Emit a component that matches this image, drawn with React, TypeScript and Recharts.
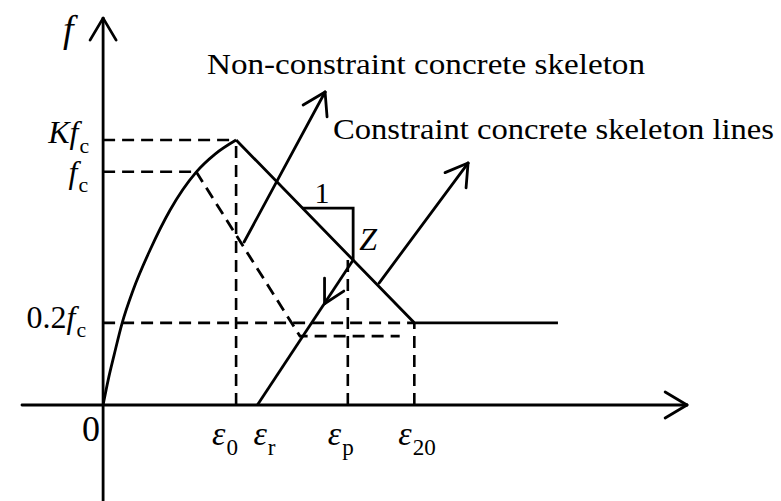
import { Line, LineChart, ReferenceDot, ReferenceLine, XAxis, YAxis } from "recharts"

// strain marks on the horizontal axis (ε0 = 1)
const EPS_0 = 1.0
const EPS_R = 1.16
const EPS_P = 1.84
const EPS_20 = 2.34
const PLATEAU_END = 3.42

// stress marks on the vertical axis (Kfc = 1)
const KFC = 1.0
const FC = 0.88
const FC_02 = 0.31

// ascending branch of the skeleton curve
const ascending = [
  { x: 0, y: 0 },
  { x: 0.038, y: 0.094 },
  { x: 0.083, y: 0.189 },
  { x: 0.143, y: 0.309 },
  { x: 0.226, y: 0.434 },
  { x: 0.353, y: 0.585 },
  { x: 0.504, y: 0.736 },
  { x: 0.7, y: 0.879 },
  { x: 0.842, y: 0.947 },
  { x: EPS_0, y: KFC },
]

// confined skeleton: descending branch + residual plateau
const confined = [
  { x: EPS_0, y: KFC },
  { x: EPS_20, y: FC_02 },
  { x: PLATEAU_END, y: FC_02 },
]

// unconfined skeleton (dashed)
const unconfined = [
  { x: 0.7, y: FC },
  { x: 1.48, y: 0.26 },
  { x: 2.23, y: 0.26 },
]

// unloading path from Z down to εr
const unloading = [
  { x: EPS_R, y: 0 },
  { x: 1.88, y: 0.547 },
]

// slope triangle "1 : Z"
const slope = [
  { x: 1.496, y: 0.743 },
  { x: 1.88, y: 0.743 },
  { x: 1.88, y: 0.547 },
]

type Pt = { x: number; y: number }
type Seg = [Pt, Pt]

// dashed projection lines
const guides: Seg[] = [
  [{ x: 0, y: KFC }, { x: EPS_0, y: KFC }],
  [{ x: 0, y: FC }, { x: 0.7, y: FC }],
  [{ x: 0, y: FC_02 }, { x: EPS_20, y: FC_02 }],
  [{ x: EPS_0, y: 0 }, { x: EPS_0, y: KFC }],
  [{ x: EPS_P, y: 0 }, { x: EPS_P, y: 0.567 }],
  [{ x: EPS_20, y: 0 }, { x: EPS_20, y: FC_02 }],
]

// axes, pointer arrows and the arrow head on the unloading path
const strokes: Seg[] = [
  [{ x: 0, y: -0.36 }, { x: 0, y: 1.46 }],
  [{ x: -0.098, y: 1.377 }, { x: 0, y: 1.46 }],
  [{ x: 0.098, y: 1.377 }, { x: 0, y: 1.46 }],
  [{ x: -0.61, y: 0 }, { x: 4.39, y: 0 }],
  [{ x: 4.226, y: 0.049 }, { x: 4.39, y: 0 }],
  [{ x: 4.226, y: -0.049 }, { x: 4.39, y: 0 }],
  [{ x: 1.06, y: 0.615 }, { x: 1.669, y: 1.181 }],
  [{ x: 1.504, y: 1.132 }, { x: 1.669, y: 1.181 }],
  [{ x: 1.684, y: 1.087 }, { x: 1.669, y: 1.181 }],
  [{ x: 2.075, y: 0.46 }, { x: 2.744, y: 0.913 }],
  [{ x: 2.571, y: 0.877 }, { x: 2.744, y: 0.913 }],
  [{ x: 2.729, y: 0.819 }, { x: 2.744, y: 0.913 }],
  [{ x: 1.665, y: 0.479 }, { x: 1.665, y: 0.382 }],
  [{ x: 1.81, y: 0.43 }, { x: 1.665, y: 0.382 }],
]

const SERIF = "Liberation Serif, Times New Roman, serif"

type Lbl = {
  x: number
  y: number
  dx: number
  dy: number
  main: string
  italic?: boolean
  pre?: string
  sub?: string
  size?: number
  anchor?: "start" | "end" | "middle"
}

const yLabels: Lbl[] = [
  { x: 0, y: KFC, dx: -14, dy: 3, pre: "K", main: "f", italic: true, sub: "c", anchor: "end" },
  { x: 0, y: FC, dx: -15, dy: 11, main: "f", italic: true, sub: "c", anchor: "end" },
  { x: 0, y: FC_02, dx: -17, dy: 5, pre: "0.2", main: "f", italic: true, sub: "c", anchor: "end" },
]

const xLabels: Lbl[] = [
  { x: 0, y: 0, dx: -12, dy: 36, main: "0", size: 36, anchor: "middle" },
  { x: EPS_0, y: 0, dx: -24, dy: 40, main: "ε", italic: true, sub: "0", size: 34 },
  { x: EPS_R, y: 0, dx: -4, dy: 40, main: "ε", italic: true, sub: "r", size: 34 },
  { x: EPS_P, y: 0, dx: -20, dy: 40, main: "ε", italic: true, sub: "p", size: 34 },
  { x: EPS_20, y: 0, dx: -16, dy: 40, main: "ε", italic: true, sub: "20", size: 34 },
]

const noteLabels: Lbl[] = [
  { x: 0, y: 1.46, dx: -40, dy: 24, main: "f", italic: true, size: 38 },
  { x: 1.496, y: 0.743, dx: 20, dy: -5, main: "1", size: 30, anchor: "middle" },
  { x: 1.88, y: 0.547, dx: 6, dy: -10, main: "Z", italic: true, size: 32 },
]

const captions = [
  { text: "Non-constraint concrete skeleton", x: -0.7, y: 1.5, dx: 197, dy: 66, width: 438 },
  { text: "Constraint concrete skeleton lines", x: -0.7, y: 1.5, dx: 323, dy: 131, width: 441 },
]

const mathLabel = (l: Lbl) => (p: any) => {
  const size = l.size ?? 32
  return (
    <text
      x={p.cx + l.dx}
      y={p.cy + l.dy}
      style={{ fontFamily: SERIF, fontSize: size }}
      fill="#000"
      textAnchor={l.anchor ?? "start"}
    >
      {l.pre && <tspan style={{ fontStyle: l.pre === "K" ? "italic" : "normal" }}>{l.pre}</tspan>}
      <tspan style={{ fontStyle: l.italic ? "italic" : "normal" }}>{l.main}</tspan>
      {l.sub && (
        <tspan dy={size * 0.3} dx={1} style={{ fontSize: size * 0.68, fontStyle: "normal" }}>
          {l.sub}
        </tspan>
      )}
    </text>
  )
}

const captionShape = (c: (typeof captions)[number]) => (p: any) => (
  <text
    x={p.cx + c.dx}
    y={p.cy + c.dy}
    style={{ fontFamily: SERIF, fontSize: 30 }}
    fill="#000"
    textLength={c.width}
    lengthAdjust="spacingAndGlyphs"
  >
    {c.text}
  </text>
)

export default function App() {
  const ink = "#000"
  return (
    <div style={{ position: "absolute", left: 0, top: 0, width: 781, height: 501, background: "#fff" }}>
      <LineChart width={781} height={501} margin={{ top: 7.5, right: 79.4, bottom: 0.6, left: 10 }}>
        <XAxis type="number" dataKey="x" domain={[-0.7, 4.5]} hide allowDataOverflow />
        <YAxis type="number" dataKey="y" domain={[-0.36, 1.5]} hide allowDataOverflow />

        {guides.map((s, i) => (
          <ReferenceLine
            key={`g${i}`}
            segment={s}
            stroke={ink}
            strokeWidth={2.6}
            strokeDasharray="12 7"
            ifOverflow="visible"
          />
        ))}

        <Line data={unconfined} dataKey="y" type="linear" stroke={ink} strokeWidth={2.8}
          strokeDasharray="12 7" dot={false} isAnimationActive={false} />
        <Line data={ascending} dataKey="y" type="monotone" stroke={ink} strokeWidth={2.8}
          dot={false} isAnimationActive={false} />
        <Line data={confined} dataKey="y" type="linear" stroke={ink} strokeWidth={2.8}
          dot={false} isAnimationActive={false} />
        <Line data={unloading} dataKey="y" type="linear" stroke={ink} strokeWidth={2.8}
          dot={false} isAnimationActive={false} />
        <Line data={slope} dataKey="y" type="linear" stroke={ink} strokeWidth={2.8}
          dot={false} isAnimationActive={false} />

        {strokes.map((s, i) => (
          <ReferenceLine
            key={`s${i}`}
            segment={s}
            stroke={ink}
            strokeWidth={2.8}
            strokeLinecap="round"
            ifOverflow="visible"
          />
        ))}

        {[...yLabels, ...xLabels, ...noteLabels].map((l, i) => (
          <ReferenceDot key={`l${i}`} x={l.x} y={l.y} r={0} ifOverflow="visible" shape={mathLabel(l)} />
        ))}
        {captions.map((c, i) => (
          <ReferenceDot key={`c${i}`} x={c.x} y={c.y} r={0} ifOverflow="visible" shape={captionShape(c)} />
        ))}
      </LineChart>
    </div>
  )
}
